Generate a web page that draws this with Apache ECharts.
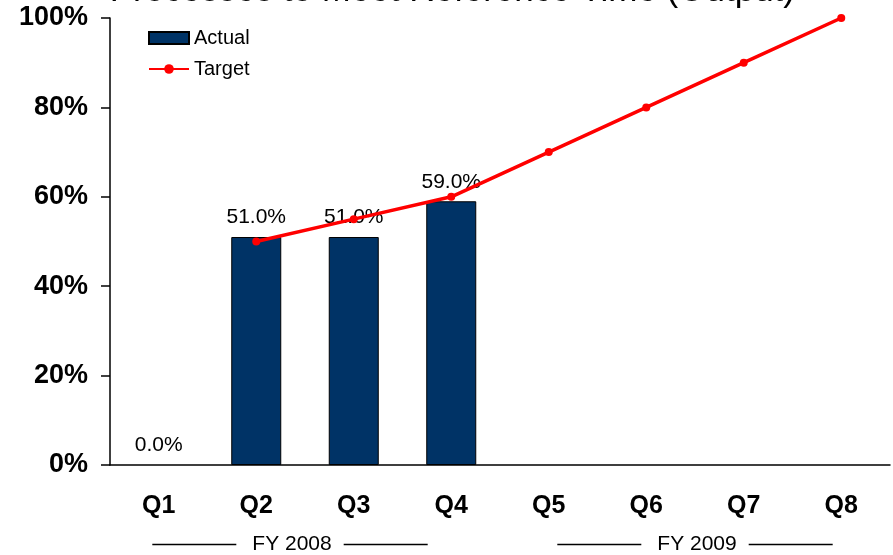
<!DOCTYPE html>
<html>
<head>
<meta charset="utf-8">
<style>
  html, body { margin: 0; padding: 0; background: #fff; }
  #chart { width: 893px; height: 555px; }
</style>
<script src="https://cdn.jsdelivr.net/npm/echarts@6/dist/echarts.min.js"></script>
</head>
<body>
<div id="chart"></div>
<script>
// Quarter categories and fiscal-year groups
const quarters = ['Q1', 'Q2', 'Q3', 'Q4', 'Q5', 'Q6', 'Q7', 'Q8'];
const fiscalYears = ['FY 2008', 'FY 2009'];

// Percent values per quarter (null = no value)
const actualValues = [0, 51, 51, 59, null, null, null, null];
const targetValues = [null, 50, 55, 60, 70, 80, 90, 100];

// Y axis range / tick step (percent)
const yMin = 0;
const yMax = 100;
const yStep = 20;

const titleText = 'Processes to Meet Reference Time (Output)';

const FONT = '"Liberation Sans", Arial, sans-serif';

// Zero-height bars get no outline
const actualData = actualValues.map(function (v) {
  if (v === 0) return { value: v, itemStyle: { borderWidth: 0 } };
  return v;
});

const chart = echarts.init(document.getElementById('chart'), null, { renderer: 'canvas' });

chart.setOption({
  animation: false,
  backgroundColor: '#ffffff',
  title: {
    text: titleText,
    right: 93,
    top: -31,
    textStyle: { fontFamily: FONT, fontSize: 35, fontWeight: 'normal', color: '#000' }
  },
  legend: {
    orient: 'vertical',
    left: 143,
    top: 23,
    itemWidth: 40,
    itemHeight: 12,
    itemGap: 11,
    textStyle: { fontFamily: FONT, fontSize: 20, color: '#000' },
    data: [
      { name: 'Actual', icon: 'rect' },
      { name: 'Target' }
    ]
  },
  grid: { left: 110, right: 3, top: 18, bottom: 90, containLabel: false },
  xAxis: [
    {
      type: 'category',
      data: quarters,
      position: 'bottom',
      axisLine: { show: true, lineStyle: { color: '#000', width: 1.5 } },
      axisTick: { show: false },
      axisLabel: {
        margin: 29,
        fontFamily: FONT, fontSize: 25, fontWeight: 'bold', color: '#000'
      }
    },
    {
      type: 'category',
      data: fiscalYears,
      position: 'bottom',
      offset: 64,
      axisLine: { show: false },
      axisTick: { show: false },
      axisLabel: {
        margin: 5,
        interval: 0,
        fontFamily: FONT,
        fontSize: 21,
        color: '#000',
        formatter: function (v, i) {
          return '{l| }{t|' + v + '}{l| }' + (i === 0 ? '{p| }' : '');
        },
        rich: {
          l: { width: 84, height: 1.5, backgroundColor: '#000' },
          t: { fontFamily: FONT, fontSize: 21, color: '#000', padding: [0, 12, 0, 16] },
          p: { width: 30 }
        }
      }
    }
  ],
  yAxis: {
    type: 'value',
    min: yMin,
    max: yMax,
    interval: yStep,
    splitLine: { show: false },
    axisLine: { show: true, lineStyle: { color: '#000', width: 1.5 } },
    axisTick: { show: true, length: 9, lineStyle: { color: '#000', width: 1.5 } },
    axisLabel: {
      margin: 22,
      fontFamily: FONT, fontSize: 27, fontWeight: 'bold', color: '#000',
      formatter: '{value}%'
    }
  },
  series: [
    {
      name: 'Actual',
      type: 'bar',
      data: actualData,
      barWidth: 50,
      itemStyle: { color: '#003366', borderColor: '#000', borderWidth: 1 },
      label: {
        show: true,
        position: 'top',
        distance: 9,
        fontFamily: FONT,
        fontSize: 21,
        color: '#000',
        formatter: function (p) { return p.value.toFixed(1) + '%'; }
      },
      z: 2
    },
    {
      name: 'Target',
      type: 'line',
      data: targetValues,
      symbol: 'circle',
      symbolSize: 8,
      connectNulls: false,
      lineStyle: { color: '#ff0000', width: 3.5 },
      itemStyle: { color: '#ff0000' },
      z: 5
    }
  ]
});
</script>
</body>
</html>
